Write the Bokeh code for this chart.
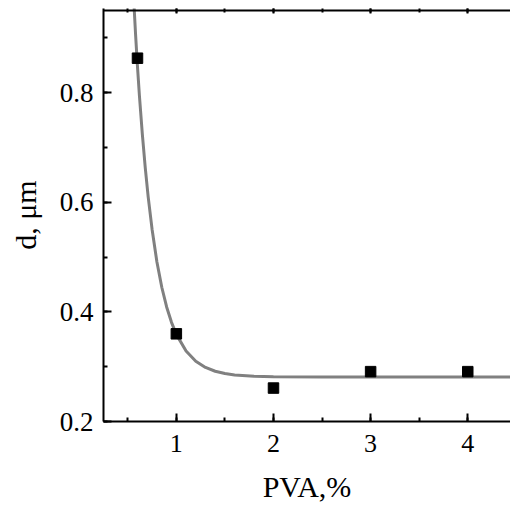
from bokeh.plotting import figure
from bokeh.models import LinearAxis, SingleIntervalTicker, CustomJSTickFormatter, Span
from bokeh.embed import file_html
from bokeh.resources import INLINE

# measured points
pva = [0.6, 1.0, 2.0, 3.0, 4.0]
d_um = [0.863, 0.360, 0.261, 0.291, 0.291]

# fitted curve
fit_x = [0.56, 0.58, 0.60, 0.62, 0.65, 0.68, 0.71, 0.75, 0.80, 0.85, 0.90, 0.95,
         1.0, 1.1, 1.2, 1.3, 1.4, 1.5, 1.6, 1.8, 2.0, 2.5, 3.0, 4.5]
fit_y = [0.973, 0.907, 0.847, 0.794, 0.724, 0.663, 0.610, 0.551, 0.491, 0.445, 0.409, 0.381,
         0.359, 0.3285, 0.310, 0.2986, 0.2917, 0.2875, 0.285, 0.2825, 0.2815, 0.281, 0.281, 0.281]

X_MIN, X_MAX = 0.25, 4.44
Y_MIN, Y_MAX = 0.2, 0.95
Y_PAD = 0.0037  # a little room so the top border line shows whole

FONT = "Liberation Serif"

p = figure(width=510, height=505, x_range=(X_MIN, X_MAX), y_range=(Y_MIN, Y_MAX + Y_PAD),
           output_backend="svg", toolbar_location=None,
           min_border_left=103, min_border_right=0, min_border_top=8, min_border_bottom=82)
p.xgrid.visible = False
p.ygrid.visible = False
p.outline_line_color = None
p.background_fill_color = "white"
p.border_fill_color = "white"

def style(ax, tick_in=8, minor_in=4):
    ax.major_tick_in = tick_in
    ax.major_tick_out = 0
    ax.minor_tick_in = minor_in
    ax.minor_tick_out = 0
    ax.axis_line_width = 2
    ax.major_tick_line_width = 2
    ax.minor_tick_line_width = 2
    ax.axis_line_color = "black"
    ax.major_tick_line_color = "black"
    ax.minor_tick_line_color = "black"
    ax.major_label_text_font = FONT
    ax.major_label_text_font_size = "26px"
    ax.major_label_text_color = "black"
    ax.axis_label_text_font = FONT
    ax.axis_label_text_font_size = "30px"
    ax.axis_label_text_font_style = "normal"
    ax.axis_label_text_color = "black"

xa = p.xaxis[0]
xa.ticker = SingleIntervalTicker(interval=1, num_minor_ticks=2)
style(xa)
xa.axis_label = "PVA,%"
xa.major_label_standoff = 13
xa.axis_label_standoff = 15

ya = p.yaxis[0]
ya.ticker = SingleIntervalTicker(interval=0.2, num_minor_ticks=2)
style(ya)
ya.axis_label = "d, μm"
ya.major_label_standoff = 10
ya.axis_label_standoff = 15
ya.major_label_text_font_size = "27px"

top = LinearAxis(ticker=SingleIntervalTicker(interval=1, num_minor_ticks=2),
                 formatter=CustomJSTickFormatter(code="return ''"))
style(top, tick_in=5, minor_in=4)
top.axis_line_color = None
top.major_label_standoff = 0
p.add_layout(top, "above")

# top border of the frame
p.add_layout(Span(location=Y_MAX, dimension="width", line_color="black", line_width=2))

p.line(fit_x, fit_y, line_color="#808080", line_width=3)
p.scatter(pva, d_um, marker="square", size=10.5, color="black")

open("out.html", "w").write(file_html(p, INLINE))
